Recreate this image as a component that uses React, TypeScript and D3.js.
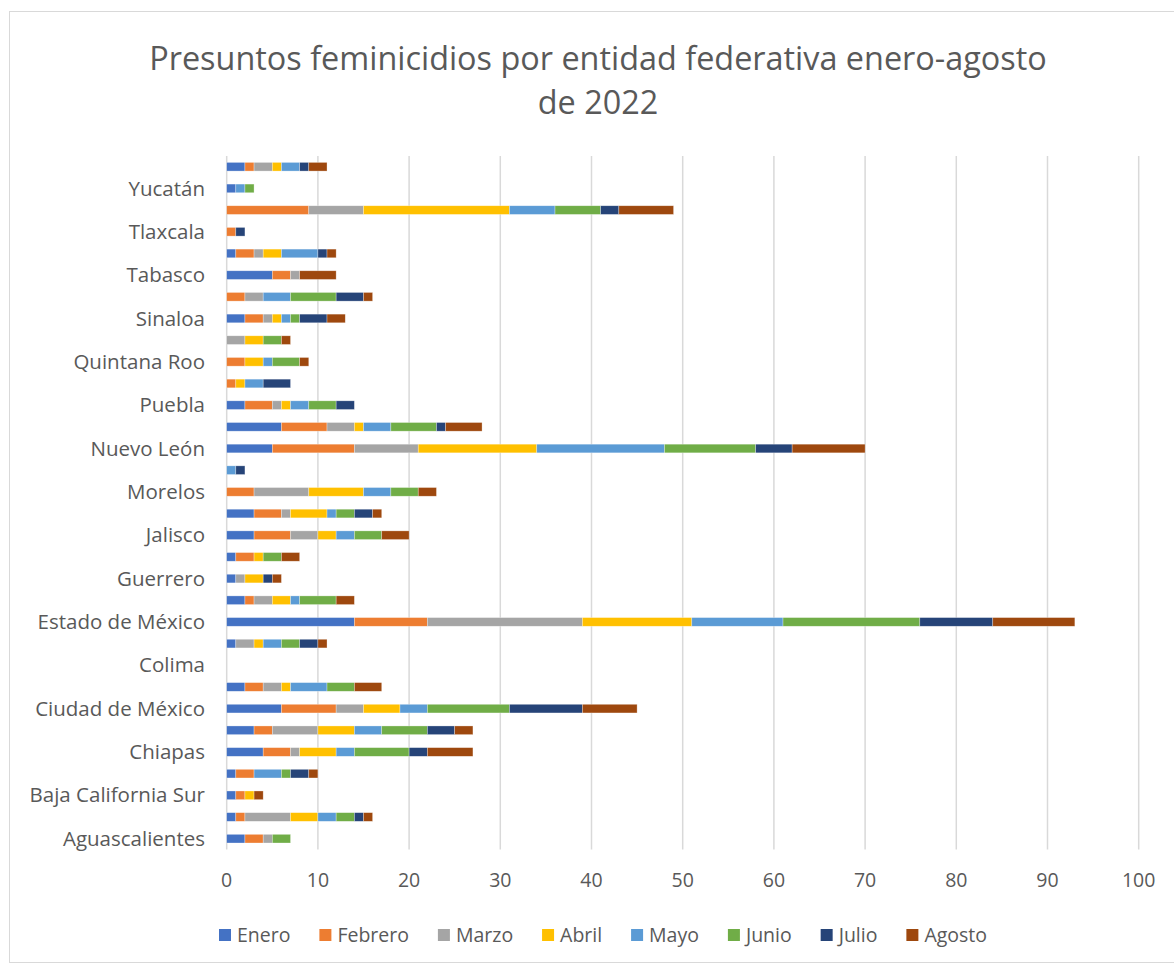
import React from "react";
import * as d3 from "d3";

const states = [
  "Aguascalientes", "Baja California", "Baja California Sur", "Campeche", "Chiapas",
  "Chihuahua", "Ciudad de México", "Coahuila", "Colima", "Durango", "Estado de México",
  "Guanajuato", "Guerrero", "Hidalgo", "Jalisco", "Michoacán", "Morelos", "Nayarit",
  "Nuevo León", "Oaxaca", "Puebla", "Querétaro", "Quintana Roo", "San Luis Potosí",
  "Sinaloa", "Sonora", "Tabasco", "Tamaulipas", "Tlaxcala", "Veracruz", "Yucatán", "Zacatecas",
];

const months = ["Enero", "Febrero", "Marzo", "Abril", "Mayo", "Junio", "Julio", "Agosto"];
const colors = ["#4472C4", "#ED7D31", "#A5A5A5", "#FFC000", "#5B9BD5", "#70AD47", "#264478", "#9E480E"];

// values per state: [Ene, Feb, Mar, Abr, May, Jun, Jul, Ago]
const aguascalientes = [2, 2, 1, 0, 0, 2, 0, 0];
const bajaCalifornia = [1, 1, 5, 3, 2, 2, 1, 1];
const bajaCaliforniaSur = [1, 1, 0, 1, 0, 0, 0, 1];
const campeche = [1, 2, 0, 0, 3, 1, 2, 1];
const chiapas = [4, 3, 1, 4, 2, 6, 2, 5];
const chihuahua = [3, 2, 5, 4, 3, 5, 3, 2];
const cdmx = [6, 6, 3, 4, 3, 9, 8, 6];
const coahuila = [2, 2, 2, 1, 4, 3, 0, 3];
const colima = [0, 0, 0, 0, 0, 0, 0, 0];
const durango = [1, 0, 2, 1, 2, 2, 2, 1];
const edomex = [14, 8, 17, 12, 10, 15, 8, 9];
const guanajuato = [2, 1, 2, 2, 1, 4, 0, 2];
const guerrero = [1, 0, 1, 2, 0, 0, 1, 1];
const hidalgo = [1, 2, 0, 1, 0, 2, 0, 2];
const jalisco = [3, 4, 3, 2, 2, 3, 0, 3];
const michoacan = [3, 3, 1, 4, 1, 2, 2, 1];
const morelos = [0, 3, 6, 6, 3, 3, 0, 2];
const nayarit = [0, 0, 0, 0, 1, 0, 1, 0];
const nuevoLeon = [5, 9, 7, 13, 14, 10, 4, 8];
const oaxaca = [6, 5, 3, 1, 3, 5, 1, 4];
const puebla = [2, 3, 1, 1, 2, 3, 2, 0];
const queretaro = [0, 1, 0, 1, 2, 0, 3, 0];
const quintanaRoo = [0, 2, 0, 2, 1, 3, 0, 1];
const sanLuisPotosi = [0, 0, 2, 2, 0, 2, 0, 1];
const sinaloa = [2, 2, 1, 1, 1, 1, 3, 2];
const sonora = [0, 2, 2, 0, 3, 5, 3, 1];
const tabasco = [5, 2, 1, 0, 0, 0, 0, 4];
const tamaulipas = [1, 2, 1, 2, 4, 0, 1, 1];
const tlaxcala = [0, 1, 0, 0, 0, 0, 1, 0];
const veracruz = [0, 9, 6, 16, 5, 5, 2, 6];
const yucatan = [1, 0, 0, 0, 1, 1, 0, 0];
const zacatecas = [2, 1, 2, 1, 2, 0, 1, 2];

const values = [
  aguascalientes, bajaCalifornia, bajaCaliforniaSur, campeche, chiapas, chihuahua, cdmx,
  coahuila, colima, durango, edomex, guanajuato, guerrero, hidalgo, jalisco, michoacan,
  morelos, nayarit, nuevoLeon, oaxaca, puebla, queretaro, quintanaRoo, sanLuisPotosi,
  sinaloa, sonora, tabasco, tamaulipas, tlaxcala, veracruz, yucatan, zacatecas,
];

const xTicks = [0, 10, 20, 30, 40, 50, 60, 70, 80, 90, 100];

const W = 1174;
const H = 966;
const FONT = "'Open Sans', sans-serif";
const TEXT = "#595959";

function measure(text: string, size: number) {
  if (typeof document === "undefined") return text.length * size * 0.55;
  const c = document.createElement("canvas").getContext("2d");
  if (!c) return text.length * size * 0.55;
  c.font = `${size}px 'Open Sans'`;
  return c.measureText(text).width;
}

export default function App() {
  const left = 226.7;
  const right = 1138.7;
  const top = 155.9;
  const bottom = 849.5;

  const x = d3.scaleLinear().domain([0, 100]).range([left, right]);
  const y = d3
    .scaleBand<string>()
    .domain(states.slice().reverse())
    .range([top, bottom])
    .paddingInner(0.6)
    .paddingOuter(0.3);

  const rows = states.map((s, i) => ({ key: s, vals: values[i] }));
  const stack = d3
    .stack<{ key: string; vals: number[] }, number>()
    .keys(months.map((_, i) => i))
    .value((d, k) => d.vals[k as number]);
  const series = stack(rows);

  // legend layout
  const legSize = 19.5;
  const sq = 12;
  const items = months.map((m) => ({ m, w: sq + 6 + measure(m, legSize) }));
  const targetW = 768;
  const gap = Math.max(10, (targetW - items.reduce((a, b) => a + b.w, 0)) / (items.length - 1));
  const totalW = items.reduce((a, b) => a + b.w, 0) + gap * (items.length - 1);
  let cx = 603 - totalW / 2;
  const legPos = items.map((it) => {
    const p = cx;
    cx += it.w + gap;
    return p;
  });

  return (
    <svg width={W} height={H} style={{ position: "absolute", left: 0, top: 0, background: "#fff" }}>
      <rect x={9.5} y={11.5} width={1190} height={951} fill="#fff" stroke="#d9d9d9" strokeWidth={1} />
      <text x={598} y={70} textAnchor="middle" fontFamily={FONT} fontSize={32.4} fill={TEXT}>
        Presuntos feminicidios por entidad federativa enero-agosto
      </text>
      <text x={598} y={114} textAnchor="middle" fontFamily={FONT} fontSize={32.4} fill={TEXT}>
        de 2022
      </text>

      {xTicks.map((t) => (
        <g key={t}>
          <line x1={x(t)} x2={x(t)} y1={top} y2={bottom} stroke="#d9d9d9" strokeWidth={1.5} />
          <text x={x(t)} y={887} textAnchor="middle" fontFamily={FONT} fontSize={19.5} fill={TEXT}>
            {t}
          </text>
        </g>
      ))}

      {series.map((s, k) => (
        <g key={k} fill={colors[k]}>
          {s.map((d, i) =>
            d[1] - d[0] > 0 ? (
              <rect
                key={i}
                x={x(d[0])}
                y={y(states[i])!}
                width={x(d[1]) - x(d[0])}
                height={y.bandwidth()}
                stroke="#ffffff"
                strokeOpacity={0.5}
                strokeWidth={0.6}
              />
            ) : null
          )}
        </g>
      ))}

      {states.map((s, i) =>
        i % 2 === 0 ? (
          <text
            key={s}
            x={205}
            y={y(s)! + y.bandwidth() / 2}
            dy="0.35em"
            textAnchor="end"
            fontFamily={FONT}
            fontSize={20.5}
            fill={TEXT}
          >
            {s}
          </text>
        ) : null
      )}

      {items.map((it, i) => (
        <g key={it.m} transform={`translate(${legPos[i]},935)`}>
          <rect x={0} y={-sq / 2} width={sq} height={sq} fill={colors[i]} />
          <text x={sq + 6} y={0} dy="0.35em" fontFamily={FONT} fontSize={legSize} fill={TEXT}>
            {it.m}
          </text>
        </g>
      ))}
    </svg>
  );
}
